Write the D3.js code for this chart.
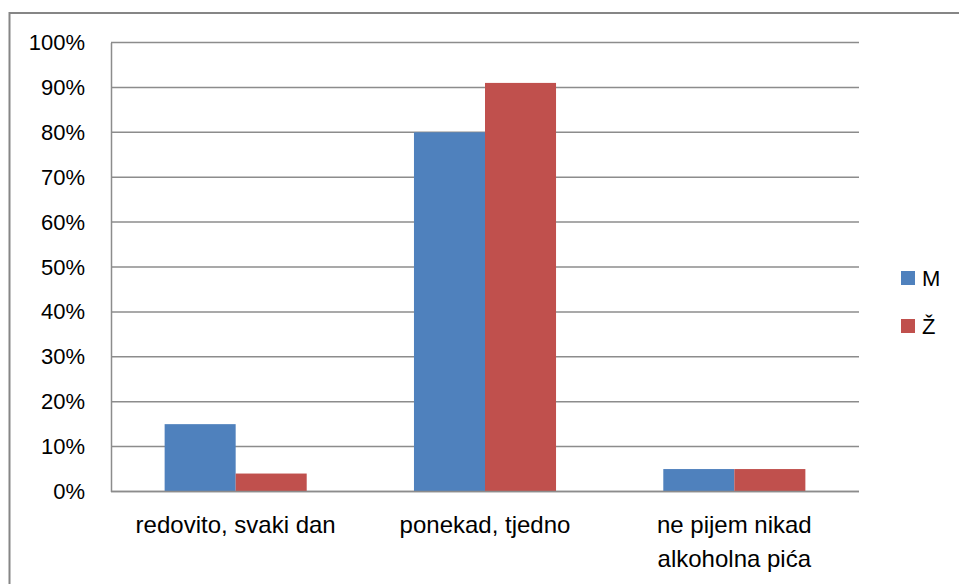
<!DOCTYPE html>
<html lang="hr">
<head>
<meta charset="UTF-8">
<title>alkohol</title>
<style>
  html, body { margin: 0; padding: 0; background: #fff; }
  svg { display: block; font-family: "Liberation Sans", Arial, sans-serif; }
</style>
</head>
<body>
<div id="container"></div>
<script src="https://cdn.jsdelivr.net/npm/d3@7"></script>
<script>
var categories = [["redovito, svaki dan"], ["ponekad, tjedno"], ["ne pijem nikad", "alkoholna pića"]];
var seriesNames = ["M", "Ž"];
var valuesM = [15, 80, 5];
var valuesZ = [4, 91, 5];
var colors = ["#4f81bd", "#c0504d"];
var tickValues = [0, 10, 20, 30, 40, 50, 60, 70, 80, 90, 100];

var W = 959, H = 584;
var plot = {left: 111, right: 859, top: 42.5, bottom: 491.5};

var svg = d3.select("#container").append("svg")
    .attr("width", W).attr("height", H);

// outer chart frame (only top and left edges show in the crop)
svg.append("path")
    .attr("d", "M9.5," + H + "V13H" + W)
    .attr("fill", "none").attr("stroke", "#868686").attr("stroke-width", 2);

var x0 = d3.scaleBand()
    .domain(d3.range(categories.length))
    .range([plot.left, plot.right])
    .paddingInner(0).paddingOuter(0);

var x1 = d3.scaleBand()
    .domain(seriesNames)
    .range([0, x0.bandwidth()])
    .paddingOuter(0.755).paddingInner(0);

var y = d3.scaleLinear().domain([0, 100]).range([plot.bottom, plot.top]);

// gridlines
svg.append("g").selectAll("line")
    .data(tickValues)
    .enter().append("line")
    .attr("x1", plot.left).attr("x2", plot.right)
    .attr("y1", function(d) { return y(d); })
    .attr("y2", function(d) { return y(d); })
    .attr("stroke", "#8c8c8c").attr("stroke-width", 1.5);

// y axis
var yAxis = svg.append("g")
    .attr("transform", "translate(" + plot.left + ",0)")
    .call(d3.axisLeft(y).tickValues(tickValues).tickSize(0).tickPadding(26)
        .tickFormat(function(d) { return d + "%"; }));
yAxis.select(".domain").attr("stroke", "#8c8c8c").attr("stroke-width", 1.5);
yAxis.selectAll("text").attr("font-size", 22).attr("fill", "#000")
    .attr("font-family", "Liberation Sans, Arial, sans-serif");

// bars
var rows = categories.map(function(c, i) {
  return [{key: "M", value: valuesM[i]}, {key: "Ž", value: valuesZ[i]}];
});

svg.append("g").selectAll("g")
    .data(rows)
    .enter().append("g")
    .attr("transform", function(d, i) { return "translate(" + x0(i) + ",0)"; })
    .selectAll("rect")
    .data(function(d) { return d; })
    .enter().append("rect")
    .attr("x", function(d) { return x1(d.key); })
    .attr("y", function(d) { return y(d.value); })
    .attr("width", x1.bandwidth())
    .attr("height", function(d) { return y(0) - y(d.value); })
    .attr("fill", function(d, i) { return colors[i]; });

// x axis baseline
svg.append("line")
    .attr("x1", plot.left).attr("x2", plot.right)
    .attr("y1", y(0)).attr("y2", y(0))
    .attr("stroke", "#8c8c8c").attr("stroke-width", 1.5);

// category labels
var labels = svg.append("g").selectAll("text")
    .data(categories)
    .enter().append("text")
    .attr("x", function(d, i) { return x0(i) + x0.bandwidth() / 2; })
    .attr("y", 533)
    .attr("text-anchor", "middle")
    .attr("font-size", 24)
    .attr("fill", "#000");
labels.selectAll("tspan")
    .data(function(d) { return d; })
    .enter().append("tspan")
    .attr("x", function() { return d3.select(this.parentNode).attr("x"); })
    .attr("dy", function(d, i) { return i === 0 ? 0 : 34; })
    .text(function(d) { return d; });

// legend
var legend = svg.append("g").selectAll("g")
    .data(seriesNames)
    .enter().append("g")
    .attr("transform", function(d, i) { return "translate(901," + (271 + i * 48) + ")"; });
legend.append("rect")
    .attr("width", 14).attr("height", 14)
    .attr("fill", function(d, i) { return colors[i]; });
legend.append("text")
    .attr("x", 21).attr("y", 7).attr("dy", "0.36em")
    .attr("font-size", 22).attr("fill", "#000")
    .text(function(d) { return d; });
</script>
</body>
</html>
